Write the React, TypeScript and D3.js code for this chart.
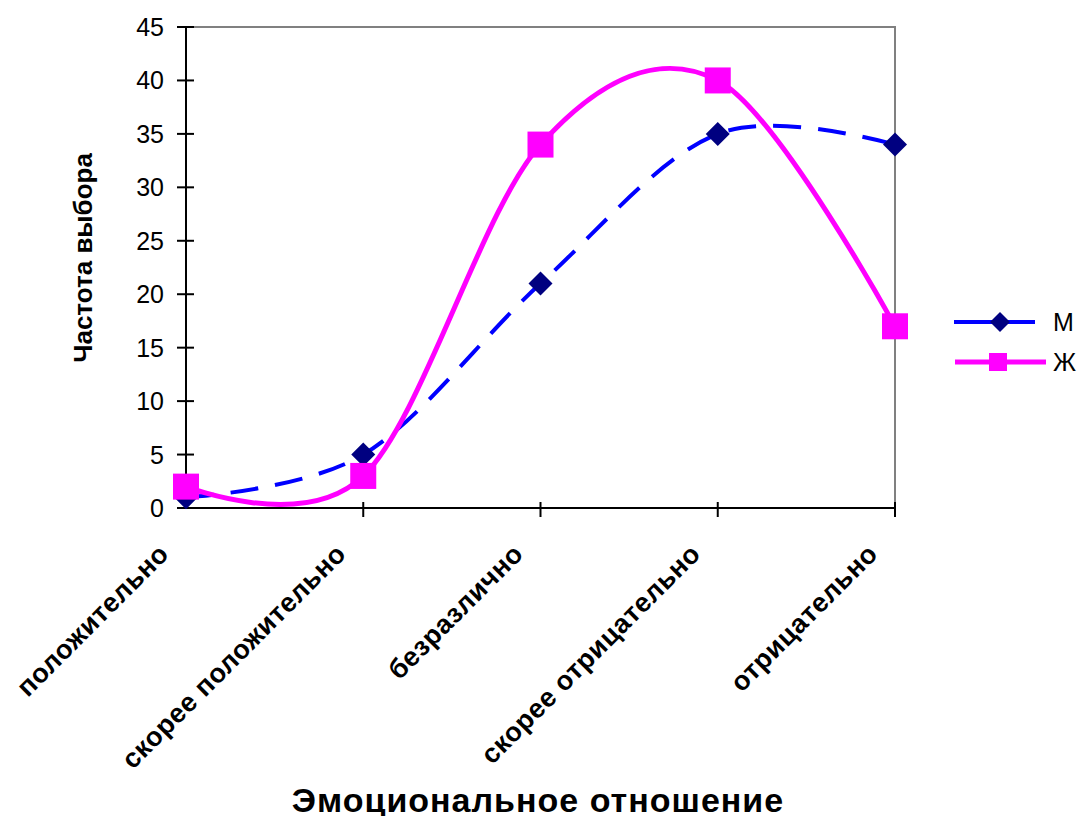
import React from "react";
import * as d3 from "d3";

const categories = ["положительно", "скорее положительно", "безразлично", "скорее  отрицательно", "отрицательно"];
const seriesM = [1, 5, 21, 35, 34];
const seriesZh = [2, 3, 34, 40, 17];
const yTicks = [0, 5, 10, 15, 20, 25, 30, 35, 40, 45];
const seriesNames = ["М", "Ж"];

const W = 1083, H = 816;
const L = 186, R = 895, T = 27, B = 508;
const FONT = "Liberation Sans, Arial, sans-serif";

export default function App() {
  const x = d3.scalePoint<string>().domain(categories).range([L, R]);
  const y = d3.scaleLinear().domain([0, 45]).range([B, T]);
  const line = d3.line<number>()
    .x((_, i) => x(categories[i]) as number)
    .y((d) => y(d))
    .curve(d3.curveCardinal.tension(0));

  const diamond = (cx: number, cy: number, r: number) =>
    `M${cx},${cy - r}L${cx + r},${cy}L${cx},${cy + r}L${cx - r},${cy}Z`;

  return (
    <svg width={W} height={H} style={{ position: "absolute", left: 0, top: 0, background: "#fff" }} fontFamily={FONT}>
      <path d={`M${L},${T}H${R}V${B}`} fill="none" stroke="#808080" strokeWidth={2} />
      <line x1={L} y1={T} x2={L} y2={B} stroke="#000" strokeWidth={2} />
      <line x1={L} y1={B} x2={R} y2={B} stroke="#000" strokeWidth={2} />
      {yTicks.map((t) => (
        <g key={t}>
          <line x1={L - 9} x2={L + 8} y1={y(t)} y2={y(t)} stroke="#000" strokeWidth={2} />
          <text x={L - 22} y={y(t)} dy="0.36em" textAnchor="end" fontSize={25}>{t}</text>
        </g>
      ))}
      {categories.map((c, i) => (
        <g key={c}>
          {i > 0 && <line x1={x(c)} x2={x(c)} y1={B - 6} y2={B + 9} stroke="#000" strokeWidth={2} />}
          <text
            transform={`translate(${(x(c) as number) - 29},${B + 34}) rotate(-45)`}
            textAnchor="end"
            fontSize={27}
            fontWeight="bold"
            letterSpacing={0.5}
            dy="0.7em"
          >{c}</text>
        </g>
      ))}
      <path d={line(seriesM) || ""} fill="none" stroke="#0000FF" strokeWidth={4} strokeDasharray="28,17" />
      <path d={line(seriesZh) || ""} fill="none" stroke="#FF00FF" strokeWidth={5} />
      {seriesM.map((v, i) => (
        <path key={"m" + i} d={diamond(x(categories[i]) as number, y(v), 12)} fill="#000080" />
      ))}
      {seriesZh.map((v, i) => (
        <rect key={"z" + i} x={(x(categories[i]) as number) - 13} y={y(v) - 13} width={26} height={26} fill="#FF00FF" />
      ))}
      <text transform={`translate(92,258) rotate(-90)`} textAnchor="middle" fontSize={26} fontWeight="bold">Частота выбора</text>
      <text x={538} y={812} textAnchor="middle" fontSize={34} fontWeight="bold" letterSpacing={1}>Эмоциональное отношение</text>
      <line x1={954} x2={1035} y1={322} y2={322} stroke="#0000FF" strokeWidth={4} />
      <path d={diamond(1000, 322, 10)} fill="#000080" />
      <text x={1053} y={322} dy="0.36em" fontSize={25}>{seriesNames[0]}</text>
      <line x1={955} x2={1046} y1={362} y2={362} stroke="#FF00FF" strokeWidth={5} />
      <rect x={989} y={353} width={18} height={18} fill="#FF00FF" />
      <text x={1053} y={362} dy="0.36em" fontSize={25}>{seriesNames[1]}</text>
    </svg>
  );
}
